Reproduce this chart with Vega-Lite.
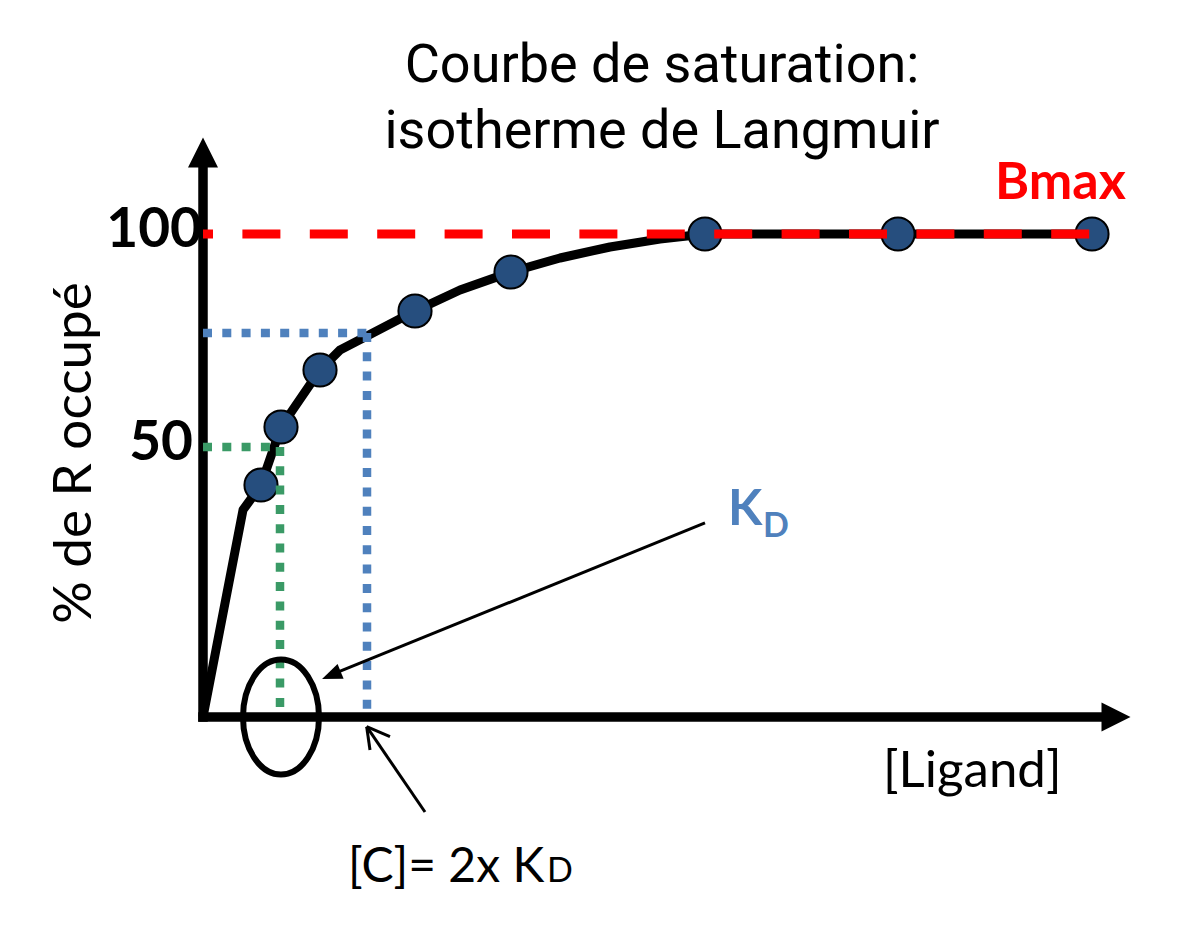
{
  "$schema": "https://vega.github.io/schema/vega-lite/v6.json",
  "width": 1190,
  "height": 932,
  "padding": 0,
  "autosize": {"type": "none"},
  "background": "white",
  "config": {"view": {"stroke": null}, "font": "Lato"},
  "datasets": {
    "curve": [
      {"x": 0, "y": 0}, {"x": 0.5, "y": 42.86}, {"x": 0.725, "y": 48.03}, {"x": 0.975, "y": 60.04},
      {"x": 1.4625, "y": 71.84}, {"x": 1.7125, "y": 75.98}, {"x": 2.05, "y": 78.88}, {"x": 2.65, "y": 84.06},
      {"x": 3.2125, "y": 88.41}, {"x": 3.85, "y": 92.13}, {"x": 4.4625, "y": 95.03}, {"x": 5.0875, "y": 97.31},
      {"x": 5.7125, "y": 98.96}, {"x": 6.275, "y": 100}, {"x": 11.1125, "y": 100}
    ],
    "points": [
      {"x": 0.725, "y": 48.03}, {"x": 0.975, "y": 60.04}, {"x": 1.4625, "y": 71.84}, {"x": 2.65, "y": 84.06},
      {"x": 3.85, "y": 92.13}, {"x": 6.275, "y": 100}, {"x": 8.6875, "y": 100}, {"x": 11.1125, "y": 100}
    ],
    "axisLines": [
      {"x": 0, "y": -1, "x2": 0, "y2": 113.9},
      {"x": -0.06, "y": 0, "x2": 11.24, "y2": 0}
    ],
    "yHead": [{"x": 0, "y": 116.87}],
    "xHead": [{"x": 11.4125, "y": 0}],
    "bmaxLine": [{"x": 0, "y": 100, "x2": 11.1125, "y2": 100}],
    "kdGuide": [
      {"x": 0, "y": 55.9, "x2": 0.9625, "y2": 55.9},
      {"x": 0.9625, "y": 55.9, "x2": 0.9625, "y2": 1.0}
    ],
    "cGuide": [
      {"x": 0, "y": 79.5, "x2": 2.05, "y2": 79.5},
      {"x": 2.05, "y": 79.5, "x2": 2.05, "y2": 1.0}
    ],
    "ellipse": [{"x": 0.975, "y": 0}],
    "arrowLines": [
      {"x": 6.275, "y": 40.17, "x2": 1.6, "y2": 8.7},
      {"x": 2.775, "y": -19.67, "x2": 2.046, "y2": -2.01},
      {"x": 2.046, "y": -2.01, "x2": 2.3375, "y2": -4.08},
      {"x": 2.046, "y": -2.01, "x2": 2.0875, "y2": -6.83}
    ],
    "arrowHead": [{"x": 1.604, "y": 8.65}],
    "title": [
      {"text": "Courbe de saturation:", "x": 5.7375, "y": 131.47},
      {"text": "isotherme de Langmuir", "x": 5.7375, "y": 117.81}
    ],
    "ylabel": [{"text": "% de R occupé", "x": -1.6, "y": 54.66}],
    "ticks": [
      {"text": "100", "x": -0.0125, "y": 100},
      {"text": "50", "x": -0.125, "y": 55.9}
    ],
    "bmax": [{"text": "Bmax", "x": 9.9, "y": 107.25}],
    "kdK": [{"text": "K", "x": 6.5625, "y": 39.75}],
    "kdD": [{"text": "D", "x": 7.0, "y": 37.27}],
    "ligand": [{"text": "[Ligand]", "x": 8.5, "y": -14.49}],
    "cText": [{"text": "[C]= 2x K", "x": 1.8125, "y": -34.16}],
    "cD": [{"text": "D", "x": 4.3, "y": -34.16}]
  },
  "encoding": {
    "x": {"field": "x", "type": "quantitative", "scale": {"domain": [-2.5375, 12.3375], "nice": false, "zero": false}, "axis": null},
    "y": {"field": "y", "type": "quantitative", "scale": {"domain": [-44.513, 148.447], "nice": false, "zero": false}, "axis": null}
  },
  "layer": [
    {
      "data": {"name": "axisLines"},
      "mark": {"type": "rule", "color": "black", "strokeWidth": 9.5},
      "encoding": {"x2": {"field": "x2"}, "y2": {"field": "y2"}}
    },
    {
      "data": {"name": "yHead"},
      "mark": {"type": "point", "shape": "M0,-1 L1,1 L-1,1 Z", "size": 900, "filled": true, "color": "black", "opacity": 1}
    },
    {
      "data": {"name": "xHead"},
      "mark": {"type": "point", "shape": "M1,0 L-1,-1 L-1,1 Z", "size": 841, "filled": true, "color": "black", "opacity": 1}
    },
    {
      "data": {"name": "curve"},
      "mark": {"type": "line", "color": "black", "strokeWidth": 9, "strokeJoin": "round"}
    },
    {
      "data": {"name": "points"},
      "mark": {"type": "point", "shape": "circle", "size": 1100, "filled": true, "fill": "#264E7E", "stroke": "black", "strokeWidth": 2, "opacity": 1}
    },
    {
      "data": {"name": "bmaxLine"},
      "mark": {"type": "rule", "color": "#FF0000", "strokeWidth": 9, "strokeDash": [38, 29.4], "strokeDashOffset": 28},
      "encoding": {"x2": {"field": "x2"}, "y2": {"field": "y2"}}
    },
    {
      "data": {"name": "kdGuide"},
      "mark": {"type": "rule", "color": "#3A9A66", "strokeWidth": 8.5, "strokeDash": [9, 10.3]},
      "encoding": {"x2": {"field": "x2"}, "y2": {"field": "y2"}}
    },
    {
      "data": {"name": "cGuide"},
      "mark": {"type": "rule", "color": "#4F81BD", "strokeWidth": 8.5, "strokeDash": [9, 10.3]},
      "encoding": {"x2": {"field": "x2"}, "y2": {"field": "y2"}}
    },
    {
      "data": {"name": "ellipse"},
      "mark": {"type": "point", "shape": "M-0.661,0 A0.661,1 0 1,1 0.661,0 A0.661,1 0 1,1 -0.661,0 Z", "size": 13225, "filled": false, "stroke": "black", "strokeWidth": 6, "opacity": 1}
    },
    {
      "data": {"name": "arrowLines"},
      "mark": {"type": "rule", "color": "black", "strokeWidth": 3},
      "encoding": {"x2": {"field": "x2"}, "y2": {"field": "y2"}}
    },
    {
      "data": {"name": "arrowHead"},
      "mark": {"type": "point", "shape": "M1,0 L-1,-0.8 L-1,0.8 Z", "size": 400, "angle": 157.84, "filled": true, "color": "black", "opacity": 1}
    },
    {
      "data": {"name": "title"},
      "mark": {"type": "text", "font": "Roboto", "fontSize": 54, "align": "center", "baseline": "alphabetic", "color": "black"},
      "encoding": {"text": {"field": "text"}}
    },
    {
      "data": {"name": "ylabel"},
      "mark": {"type": "text", "fontSize": 53, "angle": 270, "align": "center", "baseline": "middle", "color": "black"},
      "encoding": {"text": {"field": "text"}}
    },
    {
      "data": {"name": "ticks"},
      "mark": {"type": "text", "fontSize": 55, "fontWeight": "bold", "align": "right", "baseline": "middle", "dy": -4, "color": "black"},
      "encoding": {"text": {"field": "text"}}
    },
    {
      "data": {"name": "bmax"},
      "mark": {"type": "text", "fontSize": 52, "fontWeight": "bold", "align": "left", "baseline": "alphabetic", "color": "#FF0000"},
      "encoding": {"text": {"field": "text"}}
    },
    {
      "data": {"name": "kdK"},
      "mark": {"type": "text", "fontSize": 50, "fontWeight": "bold", "align": "left", "baseline": "alphabetic", "color": "#4F81BD"},
      "encoding": {"text": {"field": "text"}}
    },
    {
      "data": {"name": "kdD"},
      "mark": {"type": "text", "fontSize": 34, "fontWeight": "bold", "align": "left", "baseline": "alphabetic", "color": "#4F81BD"},
      "encoding": {"text": {"field": "text"}}
    },
    {
      "data": {"name": "ligand"},
      "mark": {"type": "text", "fontSize": 51, "align": "left", "baseline": "alphabetic", "color": "black"},
      "encoding": {"text": {"field": "text"}}
    },
    {
      "data": {"name": "cText"},
      "mark": {"type": "text", "fontSize": 48, "align": "left", "baseline": "alphabetic", "color": "black"},
      "encoding": {"text": {"field": "text"}}
    },
    {
      "data": {"name": "cD"},
      "mark": {"type": "text", "fontSize": 34, "align": "left", "baseline": "alphabetic", "color": "black"},
      "encoding": {"text": {"field": "text"}}
    }
  ]
}
